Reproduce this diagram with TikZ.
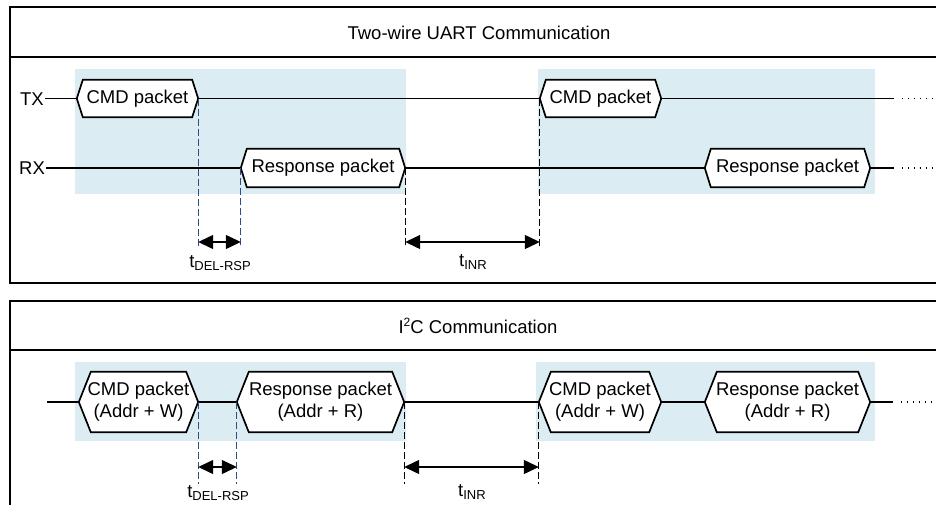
\documentclass[tikz,border=0pt]{standalone}
\usepackage{fontspec}
\setmainfont{Liberation Sans}
\usetikzlibrary{arrows.meta,calc}
\definecolor{bgblue}{RGB}{219,237,243}
\definecolor{dblue}{RGB}{45,75,135}
\pgfdeclarelayer{back}
\pgfdeclarelayer{mid}
\pgfsetlayers{back,mid,main}
\newcommand{\mysub}[1]{\raisebox{-0.35ex}{\fontsize{13}{13}\selectfont #1}}
\tikzset{
  frame/.style={line width=2pt, draw=black},
  sig/.style={line width=1.6pt},
  hexbox/.style={draw=none, inner sep=0pt, align=center, font=\fontsize{18.5}{22}\selectfont},
  hexline/.style={line width=1.7pt, fill=white, line join=miter},
  lbl/.style={font=\fontsize{18.5}{22}\selectfont, inner sep=1pt},
  dashblue/.style={dblue, line width=1pt, dash pattern=on 7pt off 3pt},
  dashblack/.style={black, line width=1pt, dash pattern=on 7pt off 3pt},
  dimarrow/.style={line width=1.2pt, {Triangle[length=15pt,width=14pt]}-{Triangle[length=15pt,width=14pt]}},
  dots/.style={line width=1.4pt, dash pattern=on 1.4pt off 4.5pt},
  shade/.style={fill=bgblue, draw=none}
}
\newcommand{\hexa}[2]{%
  \begin{pgfonlayer}{mid}
  \draw[hexline] (#1.west) -- ($(#1.north west)+(#2,0)$) -- ($(#1.north east)+(-#2,0)$) -- (#1.east) -- ($(#1.south east)+(-#2,0)$) -- ($(#1.south west)+(#2,0)$) -- cycle;
  \end{pgfonlayer}}
\begin{document}
\begin{tikzpicture}[x=1pt,y=-1pt]
\useasboundingbox (0,0) rectangle (936,504);
\clip (0,0) rectangle (936,504);

% ---------- top panel ----------
\draw[frame] (940,7) -- (10,7) -- (10,283) -- (940,283);
\draw[frame] (10,57) -- (940,57);
\node[lbl] (t1) at (479,33) {Two-wire UART Communication};

\begin{pgfonlayer}{back}
\fill[shade] (75,69) rectangle (406,194);
\fill[shade] (538,69) rectangle (875,194);
\end{pgfonlayer}

\node[lbl] (tx) at (32,99) {TX};
\node[lbl] (rx) at (32,168.5) {RX};

\node[hexbox, minimum width=121pt, minimum height=37pt] (c1) at (137.5,98.5) {CMD packet};
\node[hexbox, minimum width=121pt, minimum height=37pt] (c2) at (600.5,98.5) {CMD packet};
\node[hexbox, minimum width=164pt, minimum height=38pt] (r1) at (323,168) {Response packet};
\node[hexbox, minimum width=165pt, minimum height=38pt] (r2) at (787.5,168) {Response packet};
\hexa{c1}{6}\hexa{c2}{6}\hexa{r1}{6}\hexa{r2}{6}

\coordinate (txend) at (894,98.5);
\coordinate (txdot) at (902,98.5);
\coordinate (txfar) at (940,98.5);
\coordinate (rxend) at (894,168);
\coordinate (rxdot) at (902,168);
\coordinate (rxfar) at (940,168);

\draw[sig] (tx.east |- c1.west) -- (c1.west);
\draw[sig] (c1.east) -- (c2.west);
\draw[sig] (c2.east) -- (txend);
\draw[dots] (txdot) -- (txfar);
\draw[sig] (rx.east |- r1.west) -- (r1.west);
\draw[sig] (r1.east) -- (r2.west);
\draw[sig] (r2.east) -- (rxend);
\draw[dots] (rxdot) -- (rxfar);

\coordinate (yb1) at (0,248);
\coordinate (ya1) at (0,242);
\draw[dashblue] (c1.east) -- (c1.east |- yb1);
\draw[dashblue] (r1.west) -- (r1.west |- yb1);
\draw[dashblack] (r1.east) -- (r1.east |- yb1);
\draw[dashblack] (c2.west) -- (c2.west |- yb1);
\draw[dimarrow] (c1.east |- ya1) -- (r1.west |- ya1);
\draw[dimarrow] (r1.east |- ya1) -- (c2.west |- ya1);
\node[lbl] (d1) at (220,263) {t\mysub{DEL-RSP}};
\node[lbl] (i1) at (473,262) {t\mysub{INR}};

% ---------- bottom panel ----------
\draw[frame] (940,301) -- (10,301) -- (10,510);
\draw[frame] (10,350) -- (940,350);
\node[lbl] (t2) at (478,326) {I\raisebox{0.75ex}{\fontsize{12}{12}\selectfont 2}C Communication};

\begin{pgfonlayer}{back}
\fill[shade] (75,362) rectangle (406,441);
\fill[shade] (536,362) rectangle (875,441);
\end{pgfonlayer}

\coordinate (bstart) at (47,402);
\node[hexbox, minimum width=119pt, minimum height=60pt] (bc1) at (138.5,402) {CMD packet\\(Addr + W)};
\node[hexbox, minimum width=167pt, minimum height=60pt] (br1) at (320.5,402) {Response packet\\(Addr + R)};
\node[hexbox, minimum width=122pt, minimum height=60pt] (bc2) at (600,402) {CMD packet\\(Addr + W)};
\node[hexbox, minimum width=165pt, minimum height=60pt] (br2) at (787.5,402) {Response packet\\(Addr + R)};
\hexa{bc1}{12}\hexa{br1}{12}\hexa{bc2}{12}\hexa{br2}{12}

\coordinate (bend) at (893,402);
\coordinate (bdot) at (901,402);
\coordinate (bfar) at (940,402);
\draw[sig] (bstart) -- (bc1.west);
\draw[sig] (bc1.east) -- (br1.west);
\draw[sig] (br1.east) -- (bc2.west);
\draw[sig] (bc2.east) -- (br2.west);
\draw[sig] (br2.east) -- (bend);
\draw[dots] (bdot) -- (bfar);

\coordinate (yb2) at (0,484);
\coordinate (ya2) at (0,467);
\draw[dashblue] (bc1.east) -- (bc1.east |- yb2);
\draw[dashblue] (br1.west) -- (br1.west |- yb2);
\draw[dashblack] (br1.east) -- (br1.east |- yb2);
\draw[dashblack] (bc2.west) -- (bc2.west |- yb2);
\draw[dimarrow] (bc1.east |- ya2) -- (br1.west |- ya2);
\draw[dimarrow] (br1.east |- ya2) -- (bc2.west |- ya2);
\node[lbl] (d2) at (218,493) {t\mysub{DEL-RSP}};
\node[lbl] (i2) at (472,492) {t\mysub{INR}};
\end{tikzpicture}
\end{document}
